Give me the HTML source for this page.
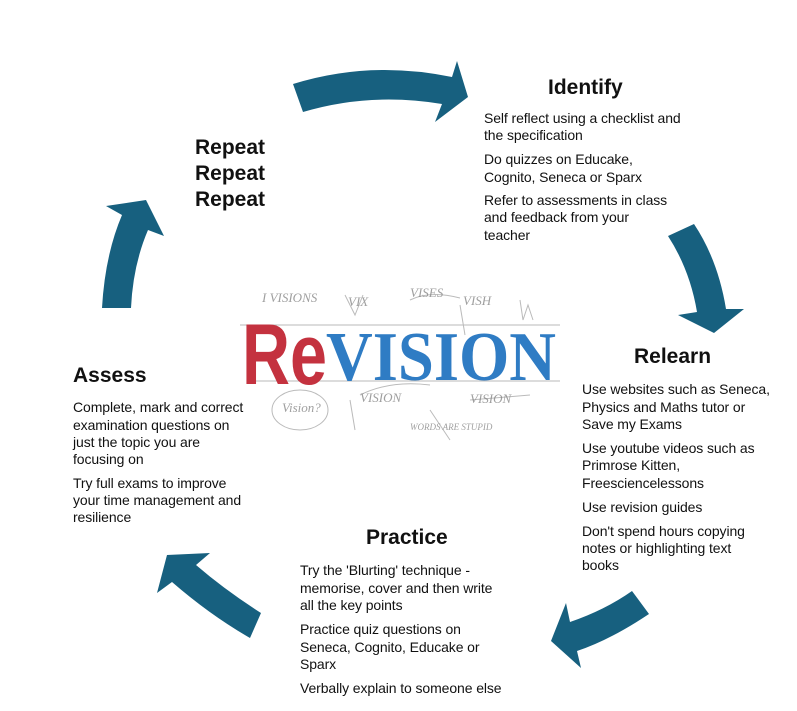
<!DOCTYPE html>
<html><head><meta charset="utf-8"><style>
body{margin:0;width:797px;height:711px;background:#fff;position:relative;overflow:hidden;font-family:"Liberation Sans",sans-serif;color:#111}
.t{position:absolute;font-size:14px;white-space:nowrap;line-height:17.5px;letter-spacing:-0.1px}
.h{position:absolute;font-size:21px;font-weight:bold;white-space:nowrap;line-height:24px}
svg{position:absolute;left:0;top:0}
</style></head><body>
<svg width="797" height="711">
<g fill="#17607f">
<path d="M293,84 Q370,60 452,77 L457,61 L468,97 L435,122 L442,104 Q370,92 303,112 Z"/>
<path d="M668,236 L694,224 Q718,260 726,309 L744,309 L714,333 L678,315 L697,312 Q690,270 668,236 Z"/>
<path d="M632,591 L649,614 Q610,640 577,651 L581,668 L551,641 L566,603 L570,622 Q605,610 632,591 Z"/>
<path d="M250,638 L261,613 Q225,590 196,565 L210,553 L167,555 L157,593 L172,582 Q210,615 250,638 Z"/>
<path d="M102,308 Q105,255 122,215 L106,206 L146,200 L164,236 L148,230 Q133,265 131,308 Z"/>
</g>
<g fill="none" stroke="#aaa" stroke-width="1" opacity="0.8">
<line x1="240" y1="325" x2="560" y2="325"/>
<line x1="255" y1="381" x2="560" y2="381"/>
<ellipse cx="300" cy="410" rx="28" ry="20"/>
<path d="M410,300 Q430,290 460,298 M345,295 l10,20 l8,-20 M460,305 l5,30 M520,300 l3,20 l5,-15 l5,15"/>
<path d="M350,400 l5,30 M360,395 Q390,380 430,385 M470,400 l60,-5 M430,410 q10,15 20,30"/>
</g>
<g font-family="Liberation Serif,serif" fill="#888" font-size="13" font-style="italic" opacity="0.8">
<text x="262" y="302">I VISIONS</text>
<text x="348" y="306">VIX</text>
<text x="410" y="297">VISES</text>
<text x="463" y="305">VISH</text>
<text x="282" y="412">Vision?</text>
<text x="360" y="402">VISION</text>
<text x="470" y="403">VISION</text>
<text x="410" y="430" font-size="9">WORDS ARE STUPID</text>
</g>
<text x="242" y="384" font-family="Liberation Sans,sans-serif" font-weight="bold" font-size="86" fill="#c4323f" textLength="85" lengthAdjust="spacingAndGlyphs">Re</text>
<text x="326" y="380" font-family="Liberation Serif,serif" font-weight="bold" font-size="70" fill="#2f7cc4" textLength="230" lengthAdjust="spacingAndGlyphs">VISION</text>
</svg>

<div class="h" style="left:548px;top:76px">Identify</div>
<div class="t" style="left:484px;top:110px">Self reflect using a checklist and</div>
<div class="t" style="left:484px;top:127px">the specification</div>
<div class="t" style="left:484px;top:151px">Do quizzes on Educake,</div>
<div class="t" style="left:484px;top:169px">Cognito, Seneca or Sparx</div>
<div class="t" style="left:484px;top:192px">Refer to assessments in class</div>
<div class="t" style="left:484px;top:209px">and feedback from your</div>
<div class="t" style="left:484px;top:227px">teacher</div>

<div class="h" style="left:634px;top:345px">Relearn</div>
<div class="t" style="left:582px;top:381px">Use websites such as Seneca,</div>
<div class="t" style="left:582px;top:399px">Physics and Maths tutor or</div>
<div class="t" style="left:582px;top:416px">Save my Exams</div>
<div class="t" style="left:582px;top:440px">Use youtube videos such as</div>
<div class="t" style="left:582px;top:457px">Primrose Kitten,</div>
<div class="t" style="left:582px;top:475px">Freesciencelessons</div>
<div class="t" style="left:582px;top:499px">Use revision guides</div>
<div class="t" style="left:582px;top:523px">Don't spend hours copying</div>
<div class="t" style="left:582px;top:540px">notes or highlighting text</div>
<div class="t" style="left:582px;top:557px">books</div>

<div class="h" style="left:366px;top:526px">Practice</div>
<div class="t" style="left:300px;top:562px">Try the 'Blurting' technique -</div>
<div class="t" style="left:300px;top:580px">memorise, cover and then write</div>
<div class="t" style="left:300px;top:597px">all the key points</div>
<div class="t" style="left:300px;top:621px">Practice quiz questions on</div>
<div class="t" style="left:300px;top:639px">Seneca, Cognito, Educake or</div>
<div class="t" style="left:300px;top:656px">Sparx</div>
<div class="t" style="left:300px;top:680px">Verbally explain to someone else</div>

<div class="h" style="left:73px;top:364px">Assess</div>
<div class="t" style="left:73px;top:399px">Complete, mark and correct</div>
<div class="t" style="left:73px;top:417px">examination questions on</div>
<div class="t" style="left:73px;top:434px">just the topic you are</div>
<div class="t" style="left:73px;top:451px">focusing on</div>
<div class="t" style="left:73px;top:475px">Try full exams to improve</div>
<div class="t" style="left:73px;top:492px">your time management and</div>
<div class="t" style="left:73px;top:509px">resilience</div>

<div class="h" style="left:195px;top:136px">Repeat</div>
<div class="h" style="left:195px;top:162px">Repeat</div>
<div class="h" style="left:195px;top:188px">Repeat</div>
</body></html>
